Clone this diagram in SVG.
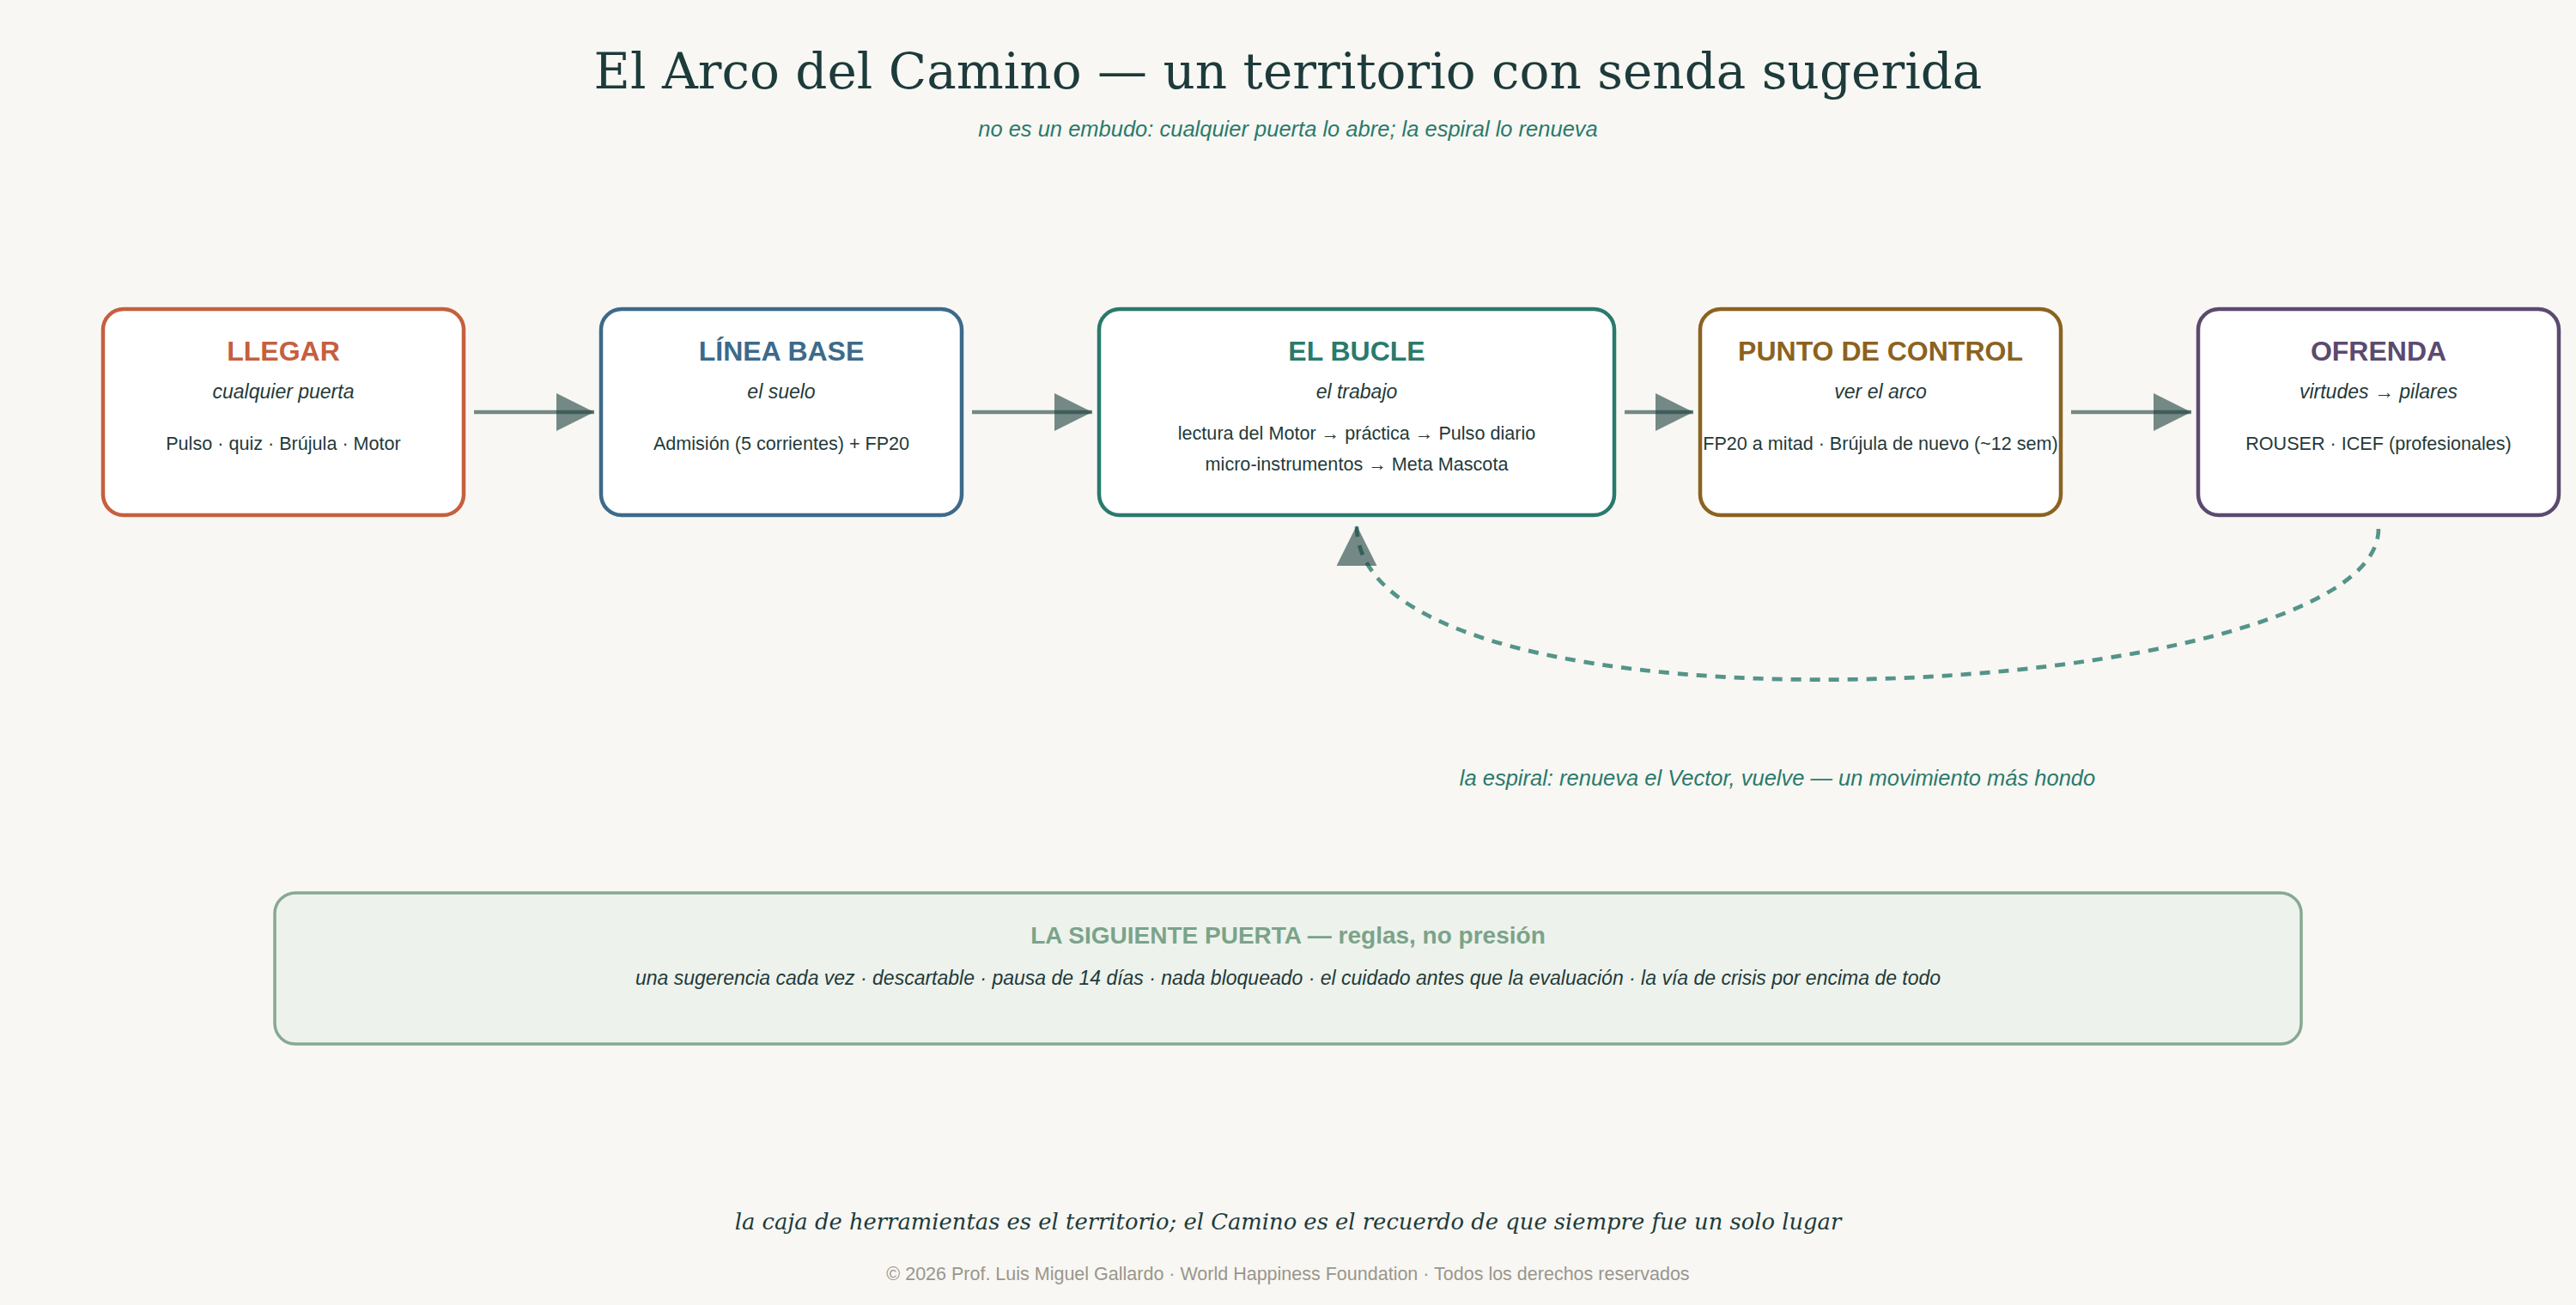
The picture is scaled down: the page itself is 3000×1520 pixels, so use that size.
<svg xmlns="http://www.w3.org/2000/svg" width="3000" height="1520" viewBox="0 0 3000 1520">
<style>
.sans{font-family:"Liberation Sans",Arial,sans-serif}
.serif{font-family:"DejaVu Serif",serif}
.card{fill:#ffffff;stroke-width:4.5}
.ttl{font-family:"Liberation Sans",Arial,sans-serif;font-weight:bold;font-size:32px;text-anchor:middle}
.sub{font-family:"Liberation Sans",Arial,sans-serif;font-style:italic;font-size:23px;fill:#1f3a3a;text-anchor:middle}
.body{font-family:"Liberation Sans",Arial,sans-serif;font-size:21.6px;fill:#1f3a3a;text-anchor:middle}
.flow{fill:none;stroke:#1c3f3c;stroke-opacity:0.6;stroke-width:4.4}
.spiral{fill:none;stroke:#2a7a6e;stroke-opacity:0.8;stroke-width:4.7;stroke-dasharray:12 10}
</style>
<defs>
<marker id="ah" viewBox="0 0 10 10" refX="10" refY="5" markerWidth="10" markerHeight="10" markerUnits="strokeWidth" orient="auto">
<path d="M0,0 L10,5 L0,10 Z" fill="#1c3f3c" fill-opacity="0.6"/>
</marker>
</defs>
<rect x="0" y="0" width="3000" height="1520" fill="#f8f7f3"/>
<g id="header">
<text class="serif" x="1500" y="103" font-size="58" fill="#1d3b3b" text-anchor="middle">El Arco del Camino — un territorio con senda sugerida</text>
<text class="sans" x="1500" y="159" font-size="25.5" font-style="italic" fill="#2a7a6c" text-anchor="middle">no es un embudo: cualquier puerta lo abre; la espiral lo renueva</text>
</g>
<g id="connectors">
<line class="flow" x1="552" y1="480" x2="692" y2="480" marker-end="url(#ah)"/>
<line class="flow" x1="1132" y1="480" x2="1272" y2="480" marker-end="url(#ah)"/>
<line class="flow" x1="1892" y1="480" x2="1972" y2="480" marker-end="url(#ah)"/>
<line class="flow" x1="2412" y1="480" x2="2552" y2="480" marker-end="url(#ah)"/>
<path class="spiral" d="M2770,616 C2770,820 1580,880 1580,612" marker-end="url(#ah)"/>
<text class="sans" x="2070" y="915" font-size="25.5" font-style="italic" fill="#2a7a6c" text-anchor="middle">la espiral: renueva el Vector, vuelve — un movimiento más hondo</text>
</g>
<g id="llegar">
<rect class="card" x="120" y="360" width="420" height="240" rx="24" stroke="#c4603f"/>
<text class="ttl" x="330" y="420" fill="#c4603f">LLEGAR</text>
<text class="sub" x="330" y="464">cualquier puerta</text>
<text class="body" x="330" y="524">Pulso · quiz · Brújula · Motor</text>
</g>
<g id="linea-base">
<rect class="card" x="700" y="360" width="420" height="240" rx="24" stroke="#3d6a8a"/>
<text class="ttl" x="910" y="420" fill="#3d6a8a">LÍNEA BASE</text>
<text class="sub" x="910" y="464">el suelo</text>
<text class="body" x="910" y="524">Admisión (5 corrientes) + FP20</text>
</g>
<g id="el-bucle">
<rect class="card" x="1280" y="360" width="600" height="240" rx="24" stroke="#2a7a6c"/>
<text class="ttl" x="1580" y="420" fill="#2a7a6c">EL BUCLE</text>
<text class="sub" x="1580" y="464">el trabajo</text>
<text class="body" x="1580" y="512">lectura del Motor → práctica → Pulso diario</text>
<text class="body" x="1580" y="548">micro-instrumentos → Meta Mascota</text>
</g>
<g id="punto-de-control">
<rect class="card" x="1980" y="360" width="420" height="240" rx="24" stroke="#8b6220"/>
<text class="ttl" x="2190" y="420" fill="#8b6220">PUNTO DE CONTROL</text>
<text class="sub" x="2190" y="464">ver el arco</text>
<text class="body" x="2190" y="524">FP20 a mitad · Brújula de nuevo (~12 sem)</text>
</g>
<g id="ofrenda">
<rect class="card" x="2560" y="360" width="420" height="240" rx="24" stroke="#5b4a70"/>
<text class="ttl" x="2770" y="420" fill="#5b4a70">OFRENDA</text>
<text class="sub" x="2770" y="464">virtudes → pilares</text>
<text class="body" x="2770" y="524">ROUSER · ICEF (profesionales)</text>
</g>
<g id="siguiente-puerta">
<rect x="320" y="1040" width="2360" height="176" rx="24" fill="#edf2ec" stroke="#86a992" stroke-width="3.5"/>
<text class="sans" x="1500" y="1099" font-size="28" font-weight="bold" fill="#7ba38a" text-anchor="middle">LA SIGUIENTE PUERTA — reglas, no presión</text>
<text class="sans" x="1500" y="1147" font-size="23" font-style="italic" fill="#1f3a3a" text-anchor="middle">una sugerencia cada vez · descartable · pausa de 14 días · nada bloqueado · el cuidado antes que la evaluación · la vía de crisis por encima de todo</text>
</g>
<g id="footer">
<text class="serif" x="1500" y="1432" font-size="25.8" font-style="italic" fill="#1d3b3b" text-anchor="middle">la caja de herramientas es el territorio; el Camino es el recuerdo de que siempre fue un solo lugar</text>
<text class="sans" x="1500" y="1491" font-size="21.5" fill="#9a968c" text-anchor="middle">© 2026 Prof. Luis Miguel Gallardo · World Happiness Foundation · Todos los derechos reservados</text>
</g>
</svg>
